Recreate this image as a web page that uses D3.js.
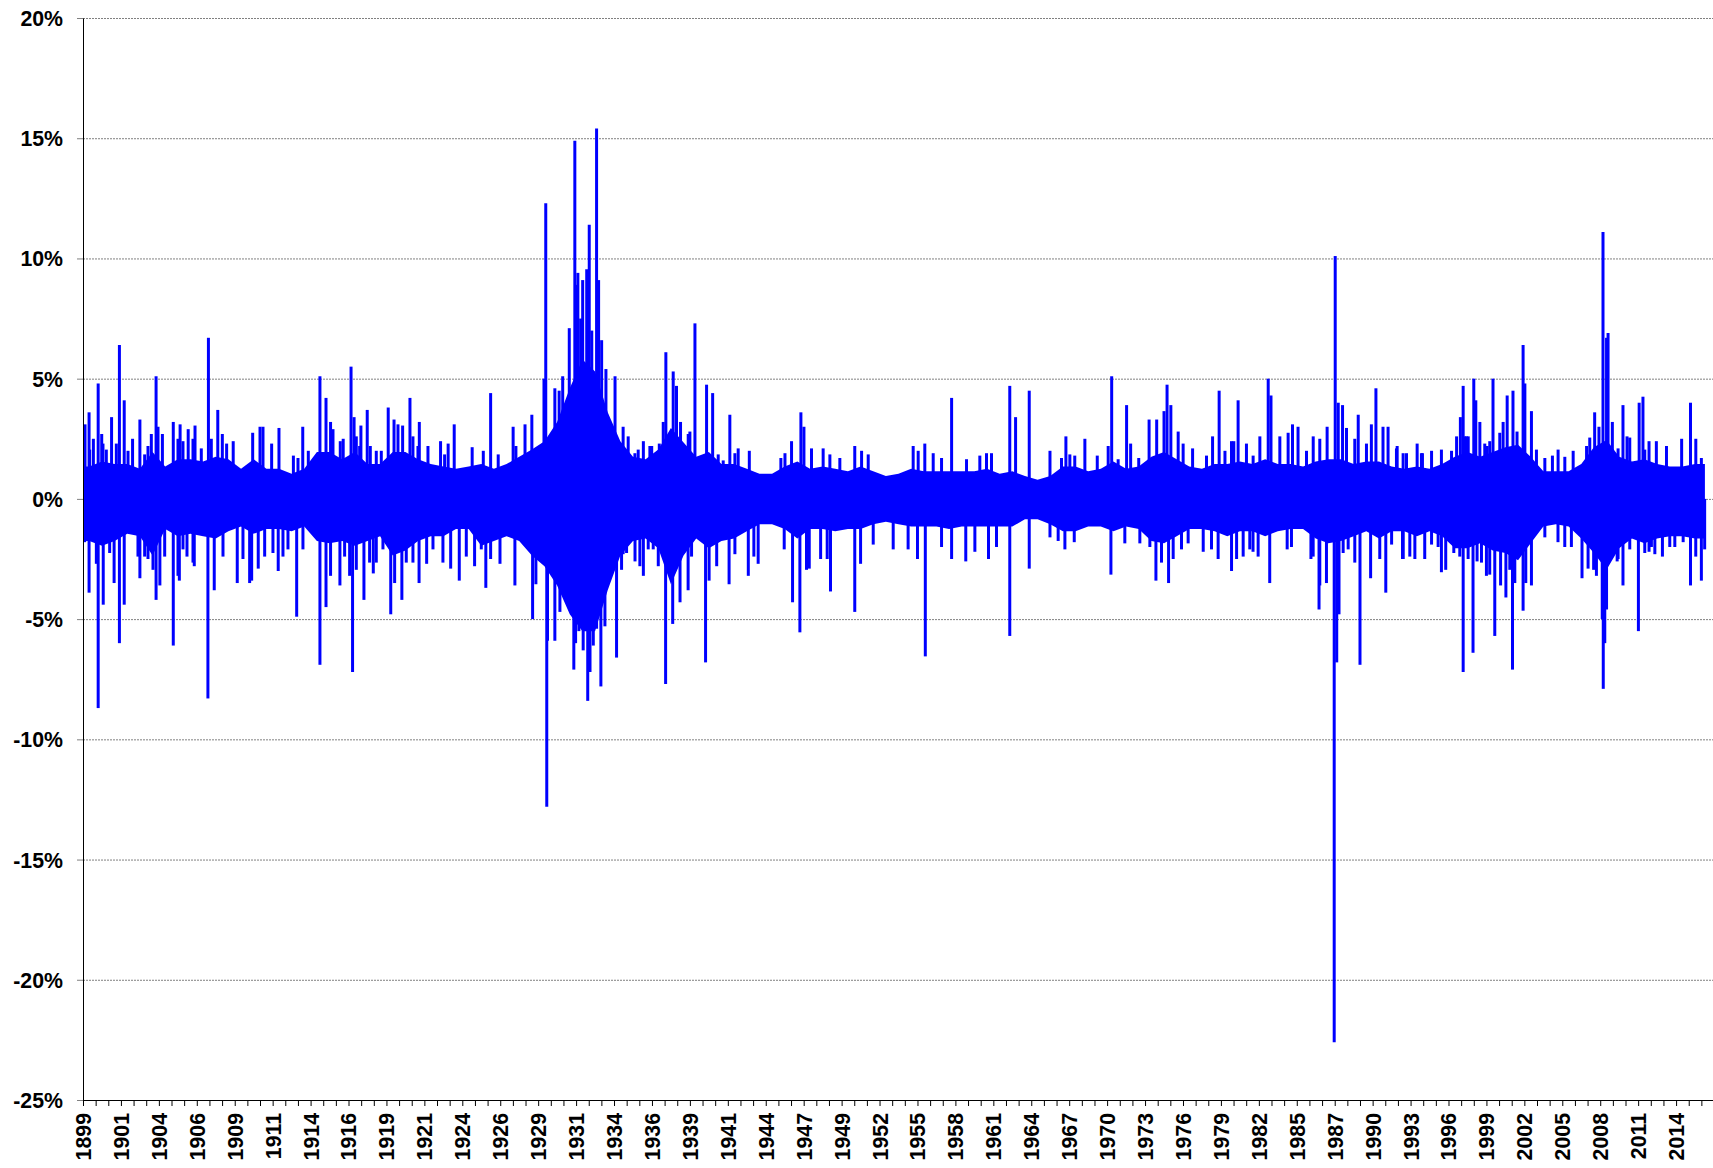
<!DOCTYPE html>
<html>
<head>
<meta charset="utf-8">
<script src="https://cdn.jsdelivr.net/npm/d3@7"></script>
<style>
  html, body { margin: 0; padding: 0; background: #fff; }
  svg { display: block; }
  .axis text { font-family: "Liberation Sans", Arial, sans-serif; font-weight: bold; font-size: 21.3px; fill: #000; }
</style>
</head>
<body>
<svg id="chart" width="1713" height="1168"></svg>
<script>
// x is a trading-day index; a tick every 250 days, a year label every 750
const yearLabels = [1899, 1901, 1904, 1906, 1909, 1911, 1914, 1916, 1919, 1921, 1924, 1926, 1929, 1931,
  1934, 1936, 1939, 1941, 1944, 1947, 1949, 1952, 1955, 1958, 1961, 1964, 1967, 1970, 1973, 1976,
  1979, 1982, 1985, 1987, 1990, 1993, 1996, 1999, 2002, 2005, 2008, 2011, 2014];
const daysPerTick = 250;
const ticksPerLabel = 3;
const lastDay = 32070;
const yTicks = [-25, -20, -15, -10, -5, 0, 5, 10, 15, 20];

// dense core of the daily moves, one value per 250-day block (%)
const bandHi = [1.35, 1.55, 1.45, 1.45, 1.25, 1.95, 1.35, 1.65, 1.65, 1.55,
  1.75, 1.65, 1.25, 1.65, 1.25, 1.25, 1.05, 1.25, 1.95, 1.95,
  1.65, 1.95, 1.45, 1.45, 1.95, 1.95, 1.65, 1.45, 1.35, 1.25,
  1.35, 1.45, 1.25, 1.45, 1.75, 2.05, 2.4, 3.2, 4.6, 5.8,
  5.3, 3.6, 2.4, 1.75, 1.65, 2.05, 2.95, 2.35, 1.75, 1.95,
  1.45, 1.45, 1.25, 1.05, 1.05, 1.35, 1.55, 1.25, 1.35, 1.25,
  1.15, 1.35, 1.15, 0.95, 1.05, 1.25, 1.15, 1.15, 1.15, 1.15,
  1.15, 1.25, 1.05, 1.15, 0.95, 0.8, 0.95, 1.35, 1.35, 1.15,
  1.25, 1.55, 1.25, 1.35, 1.75, 1.95, 1.65, 1.35, 1.25, 1.45,
  1.45, 1.55, 1.45, 1.65, 1.45, 1.45, 1.35, 1.55, 1.65, 1.65,
  1.45, 1.55, 1.55, 1.35, 1.25, 1.35, 1.25, 1.45, 1.75, 1.95,
  1.75, 1.95, 2.15, 2.25, 1.75, 1.15, 1.15, 1.15, 1.45, 2.15,
  2.45, 1.75, 1.55, 1.65, 1.45, 1.35, 1.35, 1.45, 1.45];
const bandLo = [-1.75, -1.95, -1.75, -1.45, -1.55, -2.35, -1.25, -1.55, -1.45, -1.55,
  -1.65, -1.35, -1.15, -1.45, -1.25, -1.25, -1.35, -1.15, -1.75, -1.85,
  -1.75, -1.95, -1.75, -1.55, -2.35, -2.15, -1.75, -1.55, -1.55, -1.25,
  -1.25, -1.95, -1.75, -1.55, -1.75, -2.35, -2.8, -3.6, -4.8, -5.5,
  -5.5, -3.8, -2.35, -1.75, -1.65, -2.05, -3.55, -2.35, -1.65, -2.05,
  -1.75, -1.65, -1.35, -1.05, -1.05, -1.25, -1.65, -1.25, -1.25, -1.35,
  -1.25, -1.25, -1.05, -0.95, -1.05, -1.15, -1.15, -1.15, -1.25, -1.15,
  -1.15, -1.15, -1.15, -1.15, -0.85, -0.85, -1.05, -1.35, -1.35, -1.15,
  -1.15, -1.35, -1.15, -1.25, -1.75, -1.85, -1.55, -1.25, -1.25, -1.35,
  -1.55, -1.35, -1.35, -1.55, -1.35, -1.25, -1.25, -1.65, -1.85, -1.75,
  -1.55, -1.35, -1.65, -1.35, -1.35, -1.55, -1.35, -1.55, -2.05, -2.05,
  -1.85, -2.15, -2.25, -2.55, -1.85, -1.15, -1.05, -1.15, -1.65, -2.25,
  -2.95, -2.05, -1.65, -1.85, -1.65, -1.55, -1.55, -1.65, -1.65];

// single days sticking well out of the core: [trading day, % change]
const spikes = [
  [40, 3.1], [120, 3.6], [120, -3.9], [205, 2.5], [300, 4.8], [300, -8.7], [370, 2.7], [400, -4.4],
  [565, 3.4], [615, -3.5], [720, 6.4], [720, -6.0], [815, 4.1], [815, -4.4], [980, 2.5], [1125, 3.3],
  [1125, -3.3], [1445, 5.1], [1445, -4.2], [1520, -3.6], [1570, 2.7], [1785, 3.2], [1785, -6.1],
  [1905, -3.4], [1920, 3.1], [2080, 2.9], [2200, -2.8], [2215, 3.05], [2470, -8.3], [2480, 6.7],
  [2595, -3.8], [2665, 3.7], [2840, 2.3], [2970, 2.4], [3050, -3.5], [3335, -3.4], [3355, 2.75],
  [3465, -2.9], [3500, 3.0], [3730, 2.3], [3860, -3.0], [3875, 2.95], [4160, 1.8], [4225, -4.9],
  [4345, 3.0], [4455, 2.0], [4685, 5.1], [4685, -6.9], [4805, 4.2], [4805, -4.5], [4895, 3.2],
  [4895, -3.2], [5080, -3.6], [5145, 2.5], [5300, 5.5], [5330, -7.2], [5360, 3.4], [5495, 3.05],
  [5555, -4.2], [5620, 3.7], [5740, -3.1], [6035, 3.8], [6085, -4.8], [6150, 3.3], [6305, -4.2],
  [6320, 3.05], [6465, 4.2], [6645, -3.5], [6650, 3.2], [6795, -2.7], [7070, 2.4], [7220, 2.3],
  [7270, -2.9], [7340, 3.1], [7440, -3.4], [7695, 2.15], [7915, 2.0], [7965, -3.7], [8060, 4.4],
  [8060, -2.5], [8210, 1.85], [8245, -2.7], [8505, 3.0], [8540, -3.6], [8560, 2.2],
  [8740, 3.1], [8875, 3.5], [8890, -5.0], [8955, -3.55], [9115, 5.0], [9150, 12.3], [9170, -12.8],
  [9185, -5.9], [9330, 4.6], [9330, -5.9], [9415, 4.5], [9430, -4.7], [9485, 5.1], [9615, 7.1],
  [9705, -7.1], [9725, 14.9], [9740, -6.0], [9760, 8.9], [9785, 9.4], [9805, -5.5], [9840, 7.5],
  [9880, 9.1], [9890, -6.3], [9960, 9.55], [9980, -8.4], [10010, 11.4], [10025, -7.2], [10060, 7.0],
  [10090, -6.1], [10155, 15.4], [10155, -5.4], [10195, 9.1], [10240, -7.8], [10255, 6.6],
  [10320, -5.3], [10340, 5.4], [10520, 5.1], [10550, -6.6], [10680, 3.0], [10680, -2.3], [10780, 2.6],
  [10915, -2.6], [11080, 2.4], [11080, -3.2], [11245, 2.2], [11375, -2.8], [11395, 2.3], [11520, -7.7],
  [11525, 6.1], [11660, -5.2], [11670, 5.3], [11735, 4.7], [11805, -4.3], [11815, 3.2], [11965, -3.8],
  [12000, 2.8], [12100, 7.3], [12310, -6.8], [12330, 4.75], [12380, -3.4], [12450, 4.4], [12530, -2.8],
  [12775, -3.55], [12790, 3.5], [12955, 2.1], [13155, -3.2], [13175, 2.0], [13265, -2.4], [13350, -2.7],
  [13865, -2.1], [13880, 1.9], [14010, 2.4], [14030, -4.3], [14175, -5.55], [14195, 3.6], [14255, 3.0],
  [14360, -2.9], [14405, 2.1], [14585, -2.5], [14635, 2.1], [14715, -2.5], [14780, -3.85], [15260, 2.2],
  [15260, -4.7], [15375, -2.7], [15395, 2.0], [15625, -1.9], [16020, -2.1], [16315, -2.1], [16415, 2.2],
  [16500, -2.5], [16645, 2.3], [16655, -6.55], [17175, 4.2], [17175, -2.5], [17455, -2.6], [17635, -2.2],
  [17865, 1.9], [17905, -2.5], [18325, 4.7], [18325, -5.7], [18440, 3.4], [18710, 4.5], [18710, -2.9],
  [19120, 2.0], [19120, -1.6], [19415, -2.1], [19435, 2.6], [19600, -1.8],
  [19610, 1.8], [19810, 2.5], [20055, 1.8], [20325, -3.15], [20340, 5.1], [20635, 3.9], [20715, 2.3],
  [20875, 1.7], [21080, 3.3], [21095, -2.0], [21215, -3.4], [21230, 3.3], [21375, 3.65], [21435, 4.75],
  [21465, -3.5], [21510, 3.9], [21655, 2.8], [21940, 2.1], [22150, -2.2], [22335, 2.6], [22445, -2.5],
  [22465, 4.5], [22580, 2.0], [22710, -3.0], [22755, 2.4], [22810, -2.5], [22840, 4.1], [23135, -2.2],
  [23270, 2.6], [23435, 5.0], [23465, -3.5], [23490, 4.3], [23665, 2.6], [23810, -2.1], [23915, 3.1],
  [24025, 3.0], [24280, -2.5], [24325, 2.6], [24440, -4.6], [24600, 3.0], [24740, -22.6], [24760, 10.1],
  [24790, -6.8], [24820, 4.0], [24835, -4.8], [24905, 3.9], [25215, 3.5], [25250, -6.9], [25460, -3.3],
  [25475, 3.1], [25565, 4.6], [25705, 3.0], [25760, -3.9], [25805, 3.0], [25875, -1.9], [25985, 2.2],
  [26090, -2.5], [26105, -2.5], [26170, 1.9],
  [26335, -2.5], [26380, 2.3], [26530, -2.5], [26665, 2.0], [26665, -1.9], [26860, 2.05], [26860, -3.05],
  [26945, -2.95], [27060, 2.0], [27105, -2.25], [27160, 2.6], [27235, 3.4], [27290, 4.7], [27290, -7.2],
  [27355, 2.6], [27485, -6.4], [27500, 5.0], [27540, 4.1], [27565, -2.6], [27620, 3.2], [27765, 2.2],
  [27815, -3.15], [27880, 5.0], [27915, -5.7], [28030, -3.6], [28080, 3.2], [28135, -4.1], [28160, 4.3],
  [28265, -7.1], [28275, 4.5], [28355, 2.8], [28475, 6.4], [28475, -4.65], [28510, 4.8], [28640, 3.65],
  [28640, -3.6], [28905, 1.7], [28905, -1.6], [29055, 1.8], [29165, -1.8], [29300, 1.75], [29430, -2.0],
  [29465, 2.0], [29640, -3.3], [29730, 2.2], [29760, -2.9], [29870, -2.95], [29890, 3.6], [29975, 3.0],
  [30040, -5.0], [30055, 11.1], [30060, -7.9], [30090, -6.0], [30125, 6.7], [30125, -4.6], [30155, 6.9],
  [30240, 3.2], [30335, -2.6], [30450, 3.9], [30450, -3.6], [30530, 2.6], [30755, -5.5], [30770, 4.0],
  [30845, 4.25], [30965, 2.4], [30965, -2.2], [31080, -2.3], [31110, 2.4], [31230, -2.4], [31310, 2.2],
  [31475, -2.0], [31610, 2.5], [31640, -1.8], [31785, 4.0], [31785, -3.6], [31890, 2.5], [32000, 1.7],
  [32000, -3.4], [32065, -2.1]
];

// smaller days that make the ragged comb along the edge of the core
const combSpikes = [
  [33, -1.8], [132, 2.05], [264, -2.7], [395, 2.3], [461, 2.05], [527, -2.25], [659, 2.3], [890, 2.0],
  [1087, -2.4], [1219, 1.85], [1219, -2.4], [1285, 2.2], [1285, -2.5], [1351, 2.7], [1384, -2.95],
  [1483, 3.0], [1615, -2.4], [1878, 2.5], [1878, -3.2], [1977, 2.4], [1977, -2.1], [2056, -2.4],
  [2175, 2.5], [2175, -2.65], [2339, 2.1], [2537, 2.5], [2755, 2.7], [2768, -2.4], [3163, -2.5],
  [3295, -3.5], [3559, 3.0], [3592, -2.4], [3756, -2.25], [3954, -2.4], [4053, -2.1], [4251, 1.7],
  [4349, -2.1], [4943, 2.9], [5087, 2.4], [5173, -2.4], [5272, -3.2], [5404, 2.6], [5404, -2.95],
  [5470, 2.2], [5667, -2.65], [5681, 2.2], [5799, 2.0], [5799, -2.65], [5898, 2.0], [5931, -2.1],
  [6162, -3.5], [6228, 3.1], [6392, -2.65], [6524, 2.6], [6524, -2.65], [6623, 2.2], [6821, 2.2],
  [6920, -2.1], [7117, -2.65], [7150, 1.85], [7579, -2.4], [7743, -2.8], [7875, -2.1],
  [10649, -2.95], [10748, -2.25], [10913, 1.9], [10978, 2.05], [11011, -2.8], [11176, -2.1],
  [11209, 2.2], [11275, -2.1], [11308, 1.7], [11473, 3.2], [11901, 2.05], [11967, 2.7], [12033, -2.4],
  [12560, 1.85], [12659, 1.6], [12890, 1.9], [12890, -2.3], [13799, 1.7], [14306, -2.95], [14768, 1.85],
  [14965, 1.7], [15526, 1.85], [16514, 2.0], [16811, 1.9], [16976, 1.7], [16976, -2.0], [17470, 1.65],
  [17733, 1.8], [17964, 1.9], [18063, -2.0],
  [19282, -1.75], [19348, 1.7], [19513, 1.85], [20271, 2.2], [20468, 1.65], [20600, -1.85],
  [20897, -1.85], [21325, -2.65], [21556, -2.5], [21721, -2.1], [21753, 2.3], [21852, -1.85],
  [22215, 1.8], [22314, -2.1], [22709, 2.4], [22940, -2.4], [23005, 2.3], [23071, -2.1], [23137, 1.8],
  [23236, -2.4], [23829, 2.75], [23895, -2.0], [24192, 2.0], [24324, -2.4], [24455, 2.5], [24455, -3.6],
  [24587, -3.5], [24917, -2.25], [24983, 2.95], [25016, -2.1], [25147, 2.5], [25147, -2.65],
  [25378, 2.3], [25641, -2.5], [25971, 2.1], [26235, -2.4], [26485, 1.9], [26795, -2.0],
  [26103, 1.9], [26465, 1.9], [27223, -2.4], [27322, 2.6], [27388, -2.5], [27390, 2.6], [27652, -2.65],
  [27717, 2.3], [27750, -3.2], [27816, 2.4], [28014, 2.75], [28212, -2.95], [28311, -3.5], [28528, -3.5],
  [28739, 2.05], [29167, 2.05], [29299, -2.0], [29793, 2.55], [29925, -3.2], [30353, 2.1], [30353, -2.5],
  [30584, 2.55], [30584, -2.1], [30881, 2.05], [30881, -2.25], [31012, -2.0], [31375, -2.0], [31889, -2.4]
];

const svg = d3.select("#chart");
const x = d3.scaleLinear().domain([0, 32230]).range([83, 1713]);
const y = d3.scaleLinear().domain([-25, 20]).range([1100, 18]);

// gridlines
svg.append("g")
  .selectAll("line")
  .data(yTicks.filter((v) => v !== -25))
  .join("line")
  .attr("x1", 83).attr("x2", 1713)
  .attr("y1", (v) => y(v) + 0.5).attr("y2", (v) => y(v) + 0.5)
  .attr("stroke", "#808080")
  .attr("stroke-width", 1)
  .attr("stroke-dasharray", "2,1");

// core band
const bandRows = [{ day: 0, hi: bandHi[0], lo: bandLo[0] }]
  .concat(bandHi.map((hi, i) => ({ day: Math.min(i * daysPerTick + daysPerTick / 2, lastDay), hi, lo: bandLo[i] })));
svg.append("path")
  .datum(bandRows)
  .attr("fill", "#0000ff")
  .attr("d", d3.area().x((d) => x(d.day)).y0((d) => y(d.lo)).y1((d) => y(d.hi)));

// single days, drawn from the zero line
const line = d3.line().x((d) => x(d[0])).y((d) => y(d[1]));
svg.append("g")
  .selectAll("path")
  .data(combSpikes.concat(spikes))
  .join("path")
  .attr("d", (s) => line([[s[0], 0], s]))
  .attr("fill", "none")
  .attr("stroke", "#0000ff")
  .attr("stroke-width", 3);

// y axis
const yAxis = svg.append("g")
  .attr("class", "axis")
  .attr("transform", "translate(83,0)")
  .call(d3.axisLeft(y).tickValues(yTicks).tickFormat((v) => v + "%").tickSize(6).tickSizeOuter(0));
yAxis.select(".domain").attr("stroke", "#000");
yAxis.selectAll(".tick line").attr("stroke", "#808080");
yAxis.selectAll(".tick text").attr("x", -20).attr("dy", "0.35em");

// x axis
const tickDays = d3.range(0, lastDay, daysPerTick);
const xAxis = svg.append("g")
  .attr("class", "axis")
  .attr("transform", "translate(0,1100)")
  .call(d3.axisBottom(x).tickValues(tickDays).tickSize(6).tickSizeOuter(0)
    .tickFormat((d, i) => (i % ticksPerLabel === 0 ? yearLabels[i / ticksPerLabel] : "")));
xAxis.select(".domain").attr("stroke", "#000");
xAxis.selectAll(".tick line").attr("stroke", "#000");
xAxis.selectAll(".tick text")
  .attr("transform", "rotate(-90)")
  .attr("x", -13)
  .attr("y", 0)
  .attr("dy", "0.35em")
  .style("text-anchor", "end");
</script>
</body>
</html>
